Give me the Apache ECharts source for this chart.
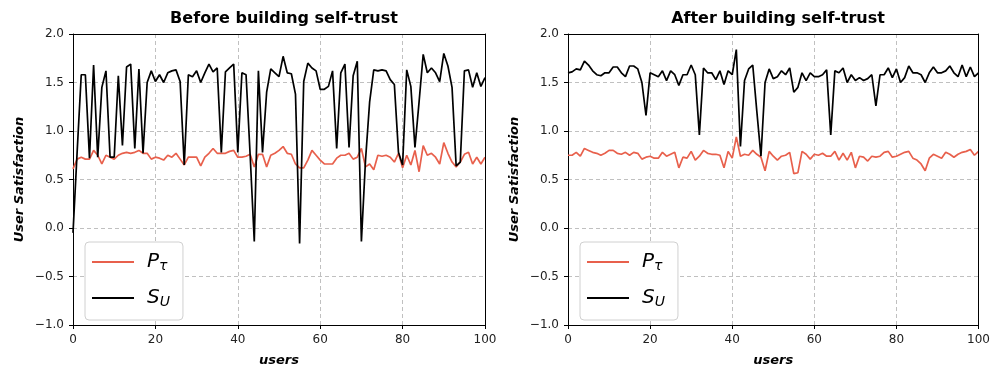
<!DOCTYPE html>
<html>
<head>
<meta charset="utf-8">
<script src="https://cdn.jsdelivr.net/npm/echarts@6/dist/echarts.min.js"></script>
<style>
  html, body { margin: 0; padding: 0; background: #fff; }
  #chart { width: 993px; height: 372px; }
</style>
</head>
<body>
<div id="chart"></div>
<script>
    // values, user 0..100
    var beforeP = [0.61, 0.71, 0.73, 0.71, 0.71, 0.80, 0.75, 0.66, 0.75, 0.73,
        0.71, 0.75, 0.77, 0.78, 0.77, 0.78, 0.80, 0.77, 0.77, 0.71,
        0.73, 0.72, 0.70, 0.75, 0.73, 0.77, 0.71, 0.65, 0.73, 0.73,
        0.73, 0.64, 0.73, 0.77, 0.82, 0.77, 0.77, 0.77, 0.79, 0.80,
        0.73, 0.73, 0.74, 0.76, 0.63, 0.76, 0.76, 0.63, 0.75, 0.77,
        0.80, 0.84, 0.77, 0.76, 0.66, 0.62, 0.62, 0.70, 0.80, 0.75,
        0.70, 0.66, 0.66, 0.66, 0.72, 0.75, 0.75, 0.77, 0.71, 0.73,
        0.82, 0.63, 0.66, 0.60, 0.75, 0.74, 0.75, 0.73, 0.68, 0.77,
        0.62, 0.75, 0.65, 0.80, 0.58, 0.85, 0.75, 0.77, 0.73, 0.66,
        0.88, 0.77, 0.68, 0.63, 0.68, 0.76, 0.78, 0.66, 0.73, 0.66,
        0.73];
    var beforeS = [-0.05, 0.78, 1.58, 1.58, 0.72, 1.68, 0.73, 1.45, 1.62, 0.73,
        0.73, 1.57, 0.85, 1.66, 1.69, 0.82, 1.64, 0.77, 1.50, 1.62,
        1.51, 1.58, 1.50, 1.60, 1.62, 1.63, 1.51, 0.65, 1.58, 1.56,
        1.62, 1.50, 1.60, 1.69, 1.61, 1.65, 0.78, 1.61, 1.65, 1.69,
        0.78, 1.60, 1.58, 0.75, -0.14, 1.62, 0.78, 1.40, 1.64, 1.60,
        1.56, 1.77, 1.60, 1.59, 1.38, -0.16, 1.51, 1.70, 1.65, 1.62,
        1.43, 1.43, 1.46, 1.62, 0.82, 1.60, 1.69, 0.83, 1.57, 1.72,
        -0.14, 0.70, 1.30, 1.63, 1.62, 1.63, 1.62, 1.53, 1.48, 0.78,
        0.65, 1.63, 1.46, 0.83, 1.30, 1.79, 1.60, 1.65, 1.60, 1.51,
        1.80, 1.67, 1.45, 0.64, 0.68, 1.62, 1.63, 1.45, 1.60, 1.46,
        1.55];
    var afterP = [0.75, 0.75, 0.78, 0.74, 0.82, 0.80, 0.78, 0.77, 0.75, 0.77,
        0.80, 0.80, 0.77, 0.76, 0.78, 0.75, 0.78, 0.77, 0.71, 0.73,
        0.74, 0.72, 0.72, 0.78, 0.74, 0.76, 0.78, 0.62, 0.73, 0.72,
        0.79, 0.70, 0.74, 0.80, 0.77, 0.76, 0.76, 0.75, 0.62, 0.79,
        0.72, 0.94, 0.74, 0.76, 0.75, 0.80, 0.76, 0.73, 0.59, 0.79,
        0.74, 0.70, 0.74, 0.75, 0.78, 0.56, 0.57, 0.79, 0.76, 0.71,
        0.76, 0.75, 0.77, 0.74, 0.74, 0.79, 0.70, 0.77, 0.70, 0.78,
        0.62, 0.74, 0.73, 0.69, 0.74, 0.73, 0.74, 0.78, 0.79, 0.73,
        0.74, 0.76, 0.78, 0.79, 0.72, 0.70, 0.66, 0.59, 0.72, 0.76,
        0.74, 0.72, 0.78, 0.76, 0.73, 0.76, 0.78, 0.79, 0.81, 0.75,
        0.79];
    var afterS = [1.60, 1.61, 1.64, 1.63, 1.72, 1.68, 1.62, 1.58, 1.57, 1.60,
        1.60, 1.66, 1.66, 1.60, 1.56, 1.67, 1.67, 1.64, 1.50, 1.16,
        1.60, 1.58, 1.56, 1.62, 1.52, 1.62, 1.58, 1.47, 1.58, 1.58,
        1.68, 1.58, 0.96, 1.65, 1.60, 1.60, 1.53, 1.62, 1.48, 1.62,
        1.58, 1.84, 0.84, 1.52, 1.64, 1.68, 1.20, 0.74, 1.50, 1.64,
        1.54, 1.56, 1.62, 1.58, 1.65, 1.40, 1.45, 1.60, 1.52, 1.60,
        1.56, 1.56, 1.58, 1.63, 0.96, 1.62, 1.60, 1.65, 1.50, 1.58,
        1.52, 1.55, 1.52, 1.54, 1.58, 1.26, 1.58, 1.58, 1.65, 1.55,
        1.64, 1.50, 1.55, 1.67, 1.60, 1.60, 1.58, 1.50, 1.60, 1.66,
        1.60, 1.60, 1.62, 1.67, 1.60, 1.56, 1.68, 1.56, 1.66, 1.56,
        1.60];
    var titles = ["Before building self-trust", "After building self-trust"];
    var xTicks = [0, 20, 40, 60, 80, 100];
    var yTicks = [-1.0, -0.5, 0.0, 0.5, 1.0, 1.5, 2.0];

    var red = '#e8604c';
    var black = '#000000';

    function pairs(vals) {
        return vals.map(function (v, i) { return [i, v]; });
    }

    var grids = [
        { left: 73, right: 508, top: 34, bottom: 45 },
        { left: 568, right: 14, top: 34, bottom: 45 }
    ];
    var centers = [279, 773];

    var option = {
        animation: false,
        backgroundColor: '#fff',
        title: [], grid: [], xAxis: [], yAxis: [], legend: [], series: []
    };

    var sets = [[beforeP, beforeS], [afterP, afterS]];
    var gridLine = { show: true, lineStyle: { color: '#b0b0b0', type: [4, 3], width: 0.8 } };

    for (var k = 0; k < 2; k++) {
        option.title.push({
            text: titles[k], left: centers[k], top: 6, textAlign: 'center',
            textStyle: { fontFamily: 'DejaVu Sans', fontWeight: 'bold', fontSize: 16, color: '#000' }
        });
        option.grid.push({
            left: grids[k].left, right: grids[k].right, top: grids[k].top, bottom: grids[k].bottom
        });
        option.xAxis.push({
            type: 'value', gridIndex: k, min: xTicks[0], max: xTicks[xTicks.length - 1], interval: 20,
            name: 'users', nameLocation: 'middle', nameGap: 29,
            nameTextStyle: { fontFamily: 'DejaVu Sans', fontWeight: 'bold', fontStyle: 'italic', fontSize: 13, color: '#000' },
            axisLine: { show: true, onZero: false, lineStyle: { color: '#000', width: 1 } },
            axisTick: { show: true, length: 4, lineStyle: { color: '#000' } },
            axisLabel: { fontFamily: 'DejaVu Sans', fontSize: 12, color: '#222', margin: 9 },
            splitLine: gridLine
        });
        // top spine
        option.xAxis.push({
            type: 'value', gridIndex: k, min: 0, max: 100, position: 'top', z: 5,
            axisLine: { show: true, onZero: false, lineStyle: { color: '#000', width: 1 } },
            axisTick: { show: false }, axisLabel: { show: false }, splitLine: { show: false }
        });
        option.yAxis.push({
            type: 'value', gridIndex: k, min: yTicks[0], max: yTicks[yTicks.length - 1], interval: 0.5,
            name: 'User Satisfaction', nameLocation: 'middle', nameGap: 47, nameRotate: 90,
            nameTextStyle: { fontFamily: 'DejaVu Sans', fontWeight: 'bold', fontStyle: 'italic', fontSize: 13, color: '#000' },
            axisLine: { show: true, onZero: false, lineStyle: { color: '#000', width: 1 } },
            axisTick: { show: true, length: 4, lineStyle: { color: '#000' } },
            axisLabel: {
                fontFamily: 'DejaVu Sans', fontSize: 12, color: '#222', margin: 9,
                formatter: function (v) { return v.toFixed(1).replace('-', '\u2212'); }
            },
            splitLine: gridLine
        });
        // right spine
        option.yAxis.push({
            type: 'value', gridIndex: k, min: -1, max: 2, position: 'right', z: 5,
            axisLine: { show: true, onZero: false, lineStyle: { color: '#000', width: 1 } },
            axisTick: { show: false }, axisLabel: { show: false }, splitLine: { show: false }
        });
        option.legend.push({
            data: ['P', 'S'], orient: 'vertical', left: grids[k].left + 12, top: 242,
            icon: 'rect', itemWidth: 42, itemHeight: 2, itemGap: 15,
            padding: [10, 13, 11, 7],
            borderColor: '#d0d0d0', borderWidth: 1, borderRadius: 4, backgroundColor: '#fff',
            selectedMode: false,
            formatter: function (name) {
                return name == 'P' ? '{m|P}{s|τ}' : '{m|S}{s|U}';
            },
            textStyle: {
                rich: {
                    m: { fontFamily: 'DejaVu Sans', fontStyle: 'italic', fontSize: 20, color: '#000', padding: [0, 0, 0, 8] },
                    s: { fontFamily: 'DejaVu Sans', fontStyle: 'italic', fontSize: 14, color: '#000', verticalAlign: 'bottom', padding: [8, 0, 0, 0] }
                }
            }
        });
        option.series.push({
            name: 'P', type: 'line', xAxisIndex: 2 * k, yAxisIndex: 2 * k, data: pairs(sets[k][0]),
            symbol: 'none', lineStyle: { color: red, width: 1.7 }, itemStyle: { color: red }, z: 3
        });
        option.series.push({
            name: 'S', type: 'line', xAxisIndex: 2 * k, yAxisIndex: 2 * k, data: pairs(sets[k][1]),
            symbol: 'none', lineStyle: { color: black, width: 1.7 }, itemStyle: { color: black }, z: 4
        });
    }

    var myChart = echarts.init(document.getElementById('chart'));
    myChart.setOption(option);
</script>
</body>
</html>
